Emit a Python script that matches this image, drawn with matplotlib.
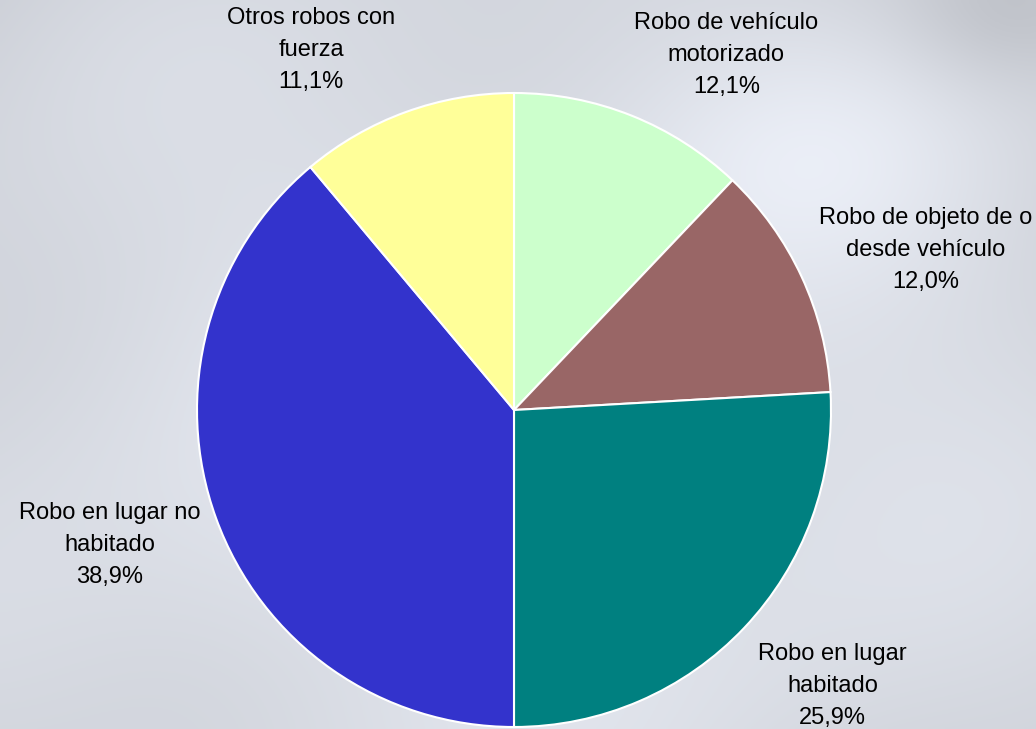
import numpy as np
import matplotlib.pyplot as plt

plt.rcParams['font.family'] = ['Liberation Sans', 'DejaVu Sans']

# Robos con fuerza, share by type (clockwise from 12 o'clock)
categorias = ['Robo de vehículo\nmotorizado', 'Robo de objeto de o\ndesde vehículo',
              'Robo en lugar\nhabitado', 'Robo en lugar no\nhabitado',
              'Otros robos con\nfuerza']
porcentajes = [12.1, 12.0, 25.9, 38.9, 11.1]
colores = ['#CCFFCC', '#996666', '#008080', '#3333CC', '#FFFF99']

# label centres, in pie radii (as the original chart placed them)
pos_etiquetas = [(0.67, 1.12), (1.30, 0.505), (1.005, -0.87), (-1.275, -0.425), (-0.64, 1.135)]

fig = plt.figure(figsize=(10.36, 7.29), dpi=100)

# cloudy grey-blue background
bg = fig.add_axes([0, 0, 1, 1])
yy, xx = np.mgrid[0:1:300j, 0:1:400j]
r = np.sqrt((xx - 0.5) ** 2 + ((yy - 0.6) * 0.9) ** 2)
shade = 0.91 - 0.13 * r ** 1.6
shade += 0.02 * np.sin(9 * xx + 3 * yy) * np.cos(7 * yy - 2 * xx)
shade += 0.05 * np.exp(-((xx - 0.8) ** 2 + (yy - 0.2) ** 2) / 0.03)
shade -= 0.06 * np.exp(-((xx - 0.97) ** 2 + (yy - 0.02) ** 2) / 0.01)
img = np.dstack([shade * 0.975, shade * 0.99, shade * 1.025]).clip(0, 1)
bg.imshow(img, extent=[0, 1, 0, 1], aspect='auto', origin='upper')
bg.axis('off')

ax = fig.add_axes([197 / 1036, 2 / 729, 634 / 1036, 634 / 729])
etiquetas = [f"{c}\n{p:.1f}%".replace('.', ',') for c, p in zip(categorias, porcentajes)]
wedges, texts = ax.pie(porcentajes, colors=colores, startangle=90, counterclock=False,
                       labels=etiquetas, labeldistance=1.33,
                       wedgeprops=dict(edgecolor='white', linewidth=1.5),
                       textprops=dict(fontsize=17, color='black', linespacing=1.6))
for t, p in zip(texts, pos_etiquetas):
    t.set_position(p)
    t.set_horizontalalignment('center')
    t.set_verticalalignment('center')
ax.set_xlim(-1, 1)
ax.set_ylim(-1, 1)
ax.set_aspect('auto')
ax.axis('off')

fig.savefig('out.png', dpi=100)
